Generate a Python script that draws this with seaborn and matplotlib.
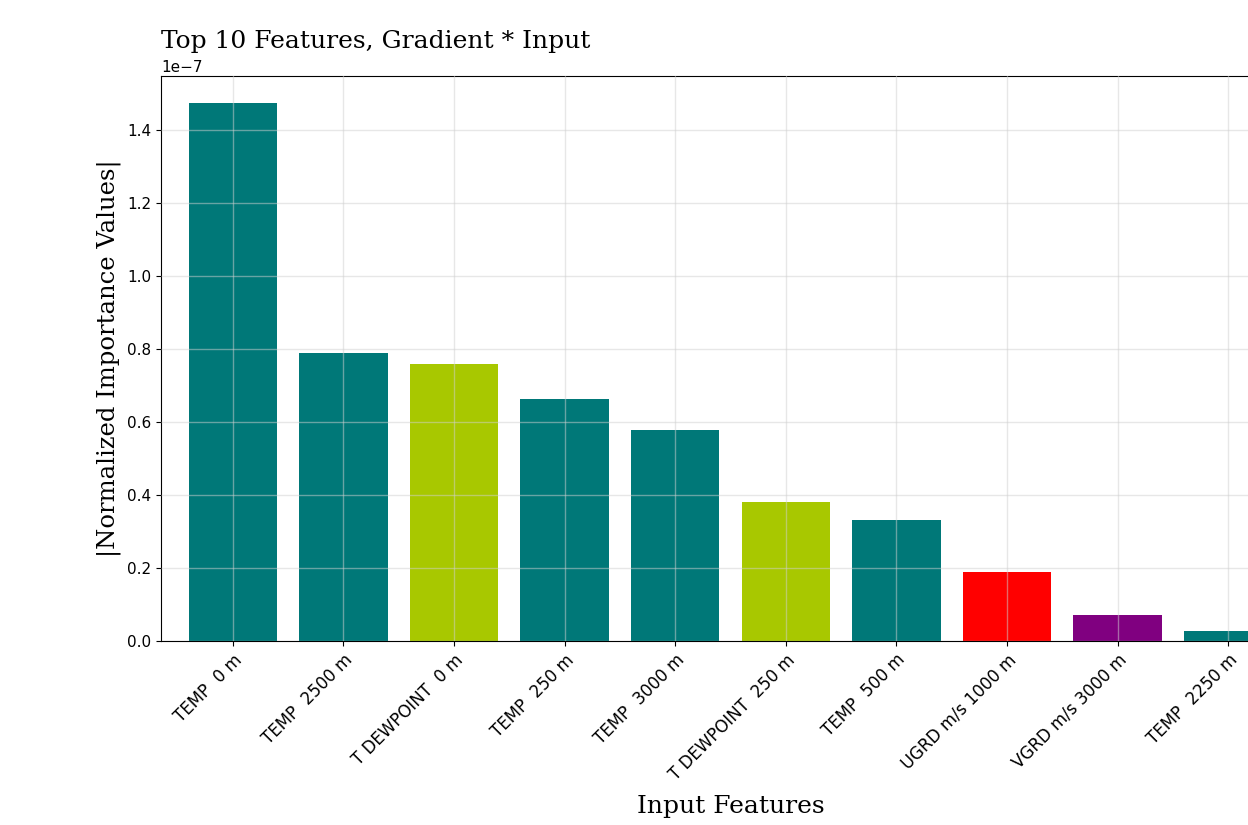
import matplotlib
matplotlib.use("Agg")
import matplotlib.pyplot as plt
import seaborn as sns
import pandas as pd

features = ["TEMP  0 m", "TEMP  2500 m", "T DEWPOINT  0 m", "TEMP  250 m",
            "TEMP  3000 m", "T DEWPOINT  250 m", "TEMP  500 m",
            "UGRD m/s 1000 m", "VGRD m/s 3000 m", "TEMP  2250 m"]
importance = [1.474e-7, 0.789e-7, 0.759e-7, 0.663e-7, 0.578e-7,
              0.381e-7, 0.332e-7, 0.189e-7, 0.071e-7, 0.027e-7]
bar_colors = ["#007878", "#007878", "#a8c800", "#007878", "#007878",
              "#a8c800", "#007878", "#ff0000", "#800080", "#007878"]

df = pd.DataFrame({"feature": features, "value": importance})

sns.set_style("white")
plt.rcParams["font.family"] = ["DejaVu Sans"]
plt.rcParams.update({"text.color": "black", "axes.labelcolor": "black",
                     "xtick.color": "black", "ytick.color": "black"})

fig = plt.figure(figsize=(12.48, 8.25), dpi=100)
W, H = 1248, 825
ax = fig.add_axes([161 / W, (H - 641) / H, (1300 - 161) / W, (641 - 76) / H])

sns.barplot(data=df, x="feature", y="value", hue="feature",
            palette=bar_colors, legend=False, width=0.8,
            saturation=1, linewidth=0, ax=ax)

ax.set_xlim(-0.65, len(features) - 1 + 0.65)
ax.set_ylim(0, max(importance) * 1.05)

ax.set_axisbelow(False)
ax.grid(True, color="#d0d0d0", alpha=0.5, linewidth=1)
for s in ax.spines.values():
    s.set_visible(True)
    s.set_color("black")
    s.set_linewidth(0.8)
ax.tick_params(axis="both", direction="out", length=3.5, width=0.8,
               bottom=True, left=True, colors="black")
ax.tick_params(axis="y", labelsize=11)
ax.tick_params(axis="x", labelsize=12)
ax.yaxis.get_offset_text().set_fontsize(11)
plt.setp(ax.get_xticklabels(), rotation=45, ha="right", rotation_mode="anchor")

ax.set_title("Top 10 Features, Gradient * Input", loc="left",
             fontfamily="DejaVu Serif", fontsize=18, pad=20, color="black")
ax.set_ylabel("|Normalized Importance Values|", fontfamily="DejaVu Serif",
              fontsize=17.5)
ax.set_xlabel("Input Features", fontfamily="DejaVu Serif", fontsize=18,
              labelpad=8)

fig.savefig("out.png", dpi=100)
